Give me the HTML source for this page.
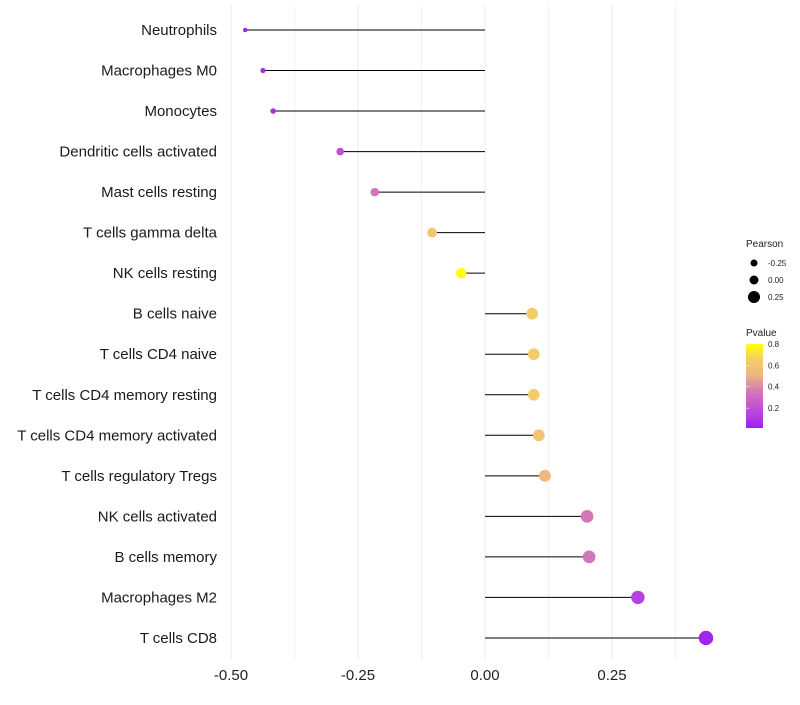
<!DOCTYPE html>
<html><head><meta charset="utf-8"><style>
body{margin:0;background:#fff;font-family:"Liberation Sans",sans-serif}
</style></head><body>
<svg id="chart" width="800" height="700" xmlns="http://www.w3.org/2000/svg" font-family="Liberation Sans, sans-serif"></svg>
<script>
const categories=["Neutrophils","Macrophages M0","Monocytes","Dendritic cells activated","Mast cells resting","T cells gamma delta","NK cells resting","B cells naive","T cells CD4 naive","T cells CD4 memory resting","T cells CD4 memory activated","T cells regulatory  Tregs","NK cells activated","B cells memory","Macrophages M2","T cells CD8"];
const pearson=[-0.472,-0.437,-0.417,-0.285,-0.217,-0.104,-0.047,0.093,0.096,0.096,0.106,0.118,0.201,0.205,0.301,0.435];
const pvalue=[0.02,0.03,0.04,0.18,0.33,0.6,0.8,0.64,0.64,0.64,0.6,0.52,0.34,0.33,0.12,0.015];
const xTicks=[-0.5,-0.25,0,0.25];
const xTickLabels=["-0.50","-0.25","0.00","0.25"];
const minorTicks=[-0.375,-0.125,0.125,0.375];
const sizeLegend=[-0.25,0,0.25];
const colorLegend=[0.2,0.4,0.6,0.8];

const svg=document.getElementById('chart');
const NS="http://www.w3.org/2000/svg";
const x=v=>485+v*508;
const y=i=>30+i*40.53;
const r=v=>Math.sqrt(Math.max(2,5+47*(v+0.472)/0.907));
const stops=[[0,[160,32,240]],[0.1,[176,64,224]],[0.2,[196,84,208]],[0.35,[212,122,184]],[0.5,[238,182,128]],[0.65,[246,204,106]],[0.8,[255,255,0]]];
function col(p){p=Math.max(0,Math.min(0.8,p));for(let k=0;k<stops.length-1;k++){const[a,ca]=stops[k],[b,cb]=stops[k+1];if(p<=b){const t=(p-a)/(b-a);return `rgb(${ca.map((c,j)=>Math.round(c+(cb[j]-c)*t)).join(',')})`;}}return 'rgb(255,255,0)';}
function el(tag,attrs,parent){const e=document.createElementNS(NS,tag);for(const k in attrs)e.setAttribute(k,attrs[k]);(parent||svg).appendChild(e);return e;}

minorTicks.forEach(v=>{const g=el('line',{x1:x(v),x2:x(v),y1:5,y2:660,stroke:'#f2f2f2','stroke-width':1});

});
xTicks.forEach((v,i)=>{const g=el('line',{x1:x(v),x2:x(v),y1:5,y2:660,stroke:'#ebebeb','stroke-width':1});


const t=el('text',{x:x(v),y:680,'text-anchor':'middle','font-size':15,fill:'#222'});t.textContent=xTickLabels[i];

});

categories.forEach((c,i)=>{
const t=el('text',{x:217,y:y(i)+5,'text-anchor':'end','font-size':15,fill:'#1a1a1a'});t.textContent=c;


const l=el('line',{x1:x(0),x2:x(pearson[i]),y1:y(i),y2:y(i),stroke:'#000','stroke-width':1});


const d=el('circle',{cx:x(pearson[i]),cy:y(i),r:r(pearson[i]),fill:col(pvalue[i])});


});

let t=el('text',{x:746,y:247,'font-size':10,fill:'#222'});t.textContent='Pearson';


const legR=[3.5,4.5,6];
sizeLegend.forEach((v,i)=>{const cy=263+i*17;
const c=el('circle',{cx:754,cy:cy,r:legR[i],fill:'#000'});


const s=el('text',{x:768,y:cy+3,'font-size':8,fill:'#222'});s.textContent=v===0?'0.00':v.toFixed(2);

});
t=el('text',{x:746,y:336,'font-size':10,fill:'#222'});t.textContent='Pvalue';


const defs=el('defs',{});const lg=el('linearGradient',{id:'pg',x1:0,y1:1,x2:0,y2:0},defs);
stops.forEach(([p,cc])=>el('stop',{offset:(p/0.8*0.985+0.015),'stop-color':`rgb(${cc.join(',')})`},lg));
const cb=el('rect',{x:746,y:344,width:17,height:84,fill:'url(#pg)'});


colorLegend.forEach(p=>{const cy=428-(p-0.014)/0.786*84;
const tk=el('line',{x1:746,x2:749,y1:cy,y2:cy,stroke:'#fff','stroke-width':0.6});


const s=el('text',{x:768,y:cy+3,'font-size':8,fill:'#222'});s.textContent=p.toFixed(1);

});
</script>
</body></html>
